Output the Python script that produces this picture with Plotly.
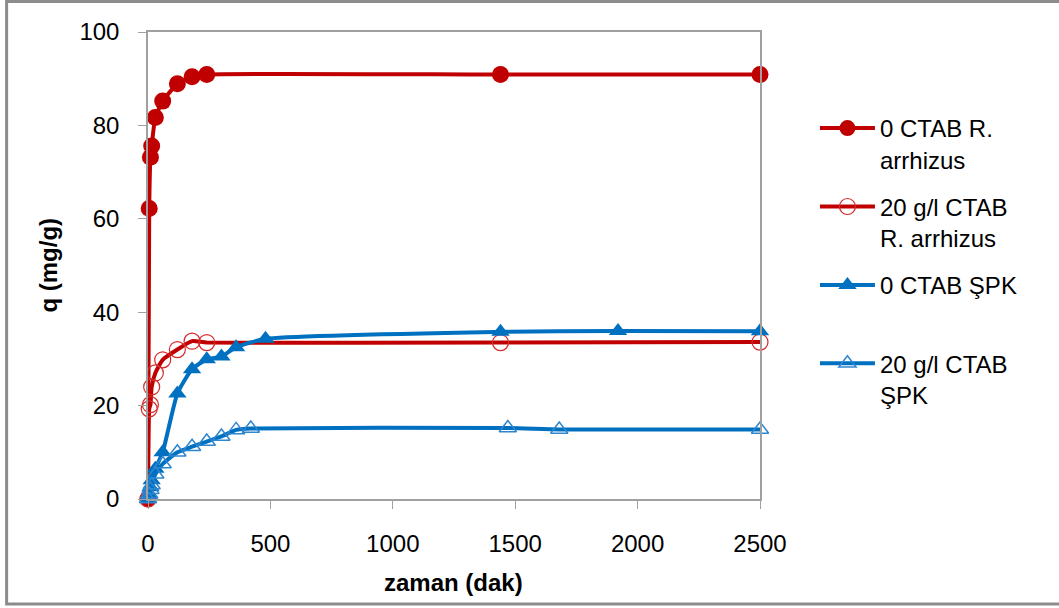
import plotly.graph_objects as go

# ---- data ----
t_ra0 = [0, 5, 10, 15, 30, 60, 120, 180, 240, 1440, 2500]
q_ra0 = [0, 62.2, 73.2, 75.6, 81.7, 85.2, 88.9, 90.4, 90.9, 90.9, 90.9]

t_ra20 = [0, 5, 10, 15, 30, 60, 120, 180, 240, 1440, 2500]
q_ra20 = [0, 19.3, 20.2, 24.0, 27.0, 29.8, 32.0, 33.8, 33.5, 33.5, 33.6]

t_spk0 = [0, 5, 10, 15, 30, 60, 120, 180, 240, 300, 360, 480, 1440, 1920, 2500]
q_spk0 = [0, 1.0, 2.5, 4.0, 6.5, 10.0, 22.6, 27.8, 29.9, 30.5, 32.5, 34.3, 35.8, 36.0, 35.9]

t_spk20 = [0, 5, 10, 15, 30, 60, 120, 180, 240, 300, 360, 420, 1470, 1680, 2500]
q_spk20 = [0, 1.0, 2.0, 3.0, 5.3, 7.5, 10.0, 11.2, 12.3, 13.4, 14.8, 15.1, 15.2, 14.9, 14.9]

names = ["0 CTAB R.<br>arrhizus", "20 g/l CTAB<br>R. arrhizus",
         "0 CTAB ŞPK<br> ", "20 g/l CTAB<br>ŞPK"]

RED = "#C00000"
BLUE = "#0070C0"
FONT = "Liberation Sans, Arial, sans-serif"
FS = 24

fig = go.Figure()
fig.add_trace(go.Scatter(
    x=t_ra0, y=q_ra0, name=names[0], legendgroup="g1", mode="lines+markers",
    line=dict(color=RED, width=4, shape="spline", smoothing=0.5),
    marker=dict(symbol="circle", size=17, color=RED),
    cliponaxis=False))
fig.add_trace(go.Scatter(
    x=t_ra20, y=q_ra20, name=names[1], legendgroup="g2", mode="lines+markers",
    line=dict(color=RED, width=4, shape="spline", smoothing=0.5),
    marker=dict(symbol="circle-open", size=16, color="#D62A2A",
                line=dict(width=1.2)),
    cliponaxis=False))
fig.add_trace(go.Scatter(
    x=t_spk0, y=q_spk0, name=names[2], legendgroup="g3", mode="lines+markers",
    line=dict(color=BLUE, width=4, shape="spline", smoothing=0.5),
    marker=dict(symbol="triangle-up", size=16, color=BLUE),
    cliponaxis=False))
fig.add_trace(go.Scatter(
    x=t_spk20, y=q_spk20, name=names[3], legendgroup="g4", mode="lines+markers",
    line=dict(color=BLUE, width=4, shape="spline", smoothing=0.5),
    marker=dict(symbol="triangle-up-open", size=15, color="#2F86D0",
                line=dict(width=1.5)),
    cliponaxis=False))

L, R, T, B = 147.5, 760, 32, 499
W, H = 1059, 608

def px(xp):
    return (xp - L) / (R - L)

def py(yp):
    return (B - yp) / (B - T)

fig.update_layout(
    width=W, height=H,
    margin=dict(l=L, r=W - R, t=T, b=H - B, autoexpand=False),
    paper_bgcolor="white", plot_bgcolor="white",
    font=dict(family=FONT, size=FS, color="black"),
    showlegend=True,
    legend=dict(x=px(815), y=py(106), xanchor="left", yanchor="top",
                font=dict(family=FONT, size=FS, color="black"),
                valign="top", itemwidth=55, tracegroupgap=13,
                groupclick="toggleitem",
                bgcolor="rgba(0,0,0,0)"),
    xaxis=dict(range=[0, 2500], dtick=500, tick0=0, showgrid=False,
               zeroline=False, showline=True, mirror=True,
               linecolor="#A0A0A0", linewidth=1.5,
               ticks="outside", ticklen=8, tickcolor="#A0A0A0",
               tickfont=dict(family=FONT, size=FS), ticklabelstandoff=14),
    yaxis=dict(range=[0, 100], dtick=20, tick0=0, showgrid=False,
               zeroline=False, showline=True, mirror=True,
               linecolor="#A0A0A0", linewidth=1.5,
               ticks="outside", ticklen=8, tickcolor="#A0A0A0",
               tickfont=dict(family=FONT, size=FS), ticklabelstandoff=14),
    annotations=[
        dict(text="<b>zaman (dak)</b>", x=px(453), y=py(582), xref="paper",
             yref="paper", showarrow=False, xanchor="center", yanchor="middle",
             font=dict(family=FONT, size=FS)),
        dict(text="<b>q (mg/g)</b>", x=px(47), y=py(265), xref="paper",
             yref="paper", showarrow=False, xanchor="center", yanchor="middle",
             textangle=-90, font=dict(family=FONT, size=FS)),
    ],
    shapes=[dict(type="rect", xref="paper", yref="paper",
                 x0=px(6), x1=px(1064), y0=py(604), y1=py(1.5),
                 line=dict(color="#8C8C8C", width=3), layer="below")],
)

fig.write_html("out.html", config={"displayModeBar": False},
               post_script="document.body.style.margin='0px';document.body.style.overflow='hidden';")
